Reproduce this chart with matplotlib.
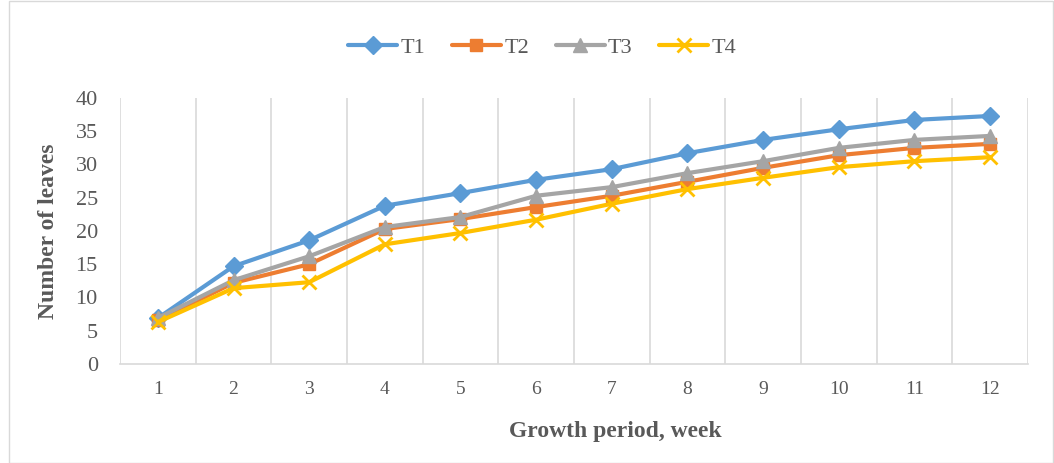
import matplotlib.pyplot as plt
import matplotlib.patches as patches

plt.rcParams['font.family'] = ['Liberation Serif', 'DejaVu Serif']

weeks = [1, 2, 3, 4, 5, 6, 7, 8, 9, 10, 11, 12]
t1 = [6.9, 14.7, 18.6, 23.8, 25.7, 27.7, 29.3, 31.7, 33.7, 35.3, 36.7, 37.3]
t2 = [6.6, 12.2, 15.0, 20.3, 21.8, 23.6, 25.3, 27.4, 29.5, 31.4, 32.5, 33.1]
t3 = [6.9, 12.6, 16.2, 20.6, 22.1, 25.3, 26.6, 28.7, 30.5, 32.5, 33.7, 34.3]
t4 = [6.3, 11.4, 12.3, 18.0, 19.7, 21.7, 24.1, 26.3, 28.0, 29.6, 30.5, 31.1]

series = [
    ('T1', t1, '#5b9bd5', 'D', 9),
    ('T2', t2, '#ed7d31', 's', 9),
    ('T3', t3, '#a5a5a5', '^', 10),
    ('T4', t4, '#ffc000', 'x', 10),
]

fig = plt.figure(figsize=(10.54, 4.63), dpi=100)
fig.patches.append(patches.Rectangle((0.009, 0.0), 0.99, 0.997, transform=fig.transFigure,
                                     fill=False, edgecolor='#d9d9d9', linewidth=1))
ax = fig.add_axes([120 / 1054, 1 - 364 / 463, 908 / 1054, 266 / 463])

for name, vals, color, marker, ms in series:
    ax.plot(weeks, vals, color=color, linewidth=3, marker=marker, markersize=ms,
            markeredgewidth=2 if marker == 'x' else 1, markeredgecolor=color,
            label=name, zorder=3, solid_capstyle='round')

ax.set_xlim(0.5, 12.5)
ax.set_ylim(0, 40)
ax.set_yticks(range(0, 41, 5))
ax.set_xticks(weeks)
for b in [x + 0.5 for x in range(0, 13)]:
    ax.axvline(b, color='#d9d9d9', linewidth=1.2, zorder=1)

for s in ['top', 'right', 'left']:
    ax.spines[s].set_visible(False)
ax.spines['bottom'].set_color('#d9d9d9')
ax.spines['bottom'].set_linewidth(1.2)
ax.tick_params(axis='both', length=0, colors='#595959', labelsize=16)
ax.tick_params(axis='x', pad=12, labelsize=14)
ax.tick_params(axis='y', pad=16)

ax.set_xlabel('Growth period, week', fontsize=17, fontweight='bold', color='#595959')
ax.xaxis.set_label_coords(0.545, -0.215)
ax.set_ylabel('Number of leaves', fontsize=17, fontweight='bold', color='#595959', labelpad=12)

leg = ax.legend(loc='center', bbox_to_anchor=(0.465, 1.19), ncol=4, frameon=False,
                fontsize=16, handlelength=2.2, columnspacing=1.2, handletextpad=0.15)
for t in leg.get_texts():
    t.set_color('#595959')

fig.savefig('out.png', dpi=100)
